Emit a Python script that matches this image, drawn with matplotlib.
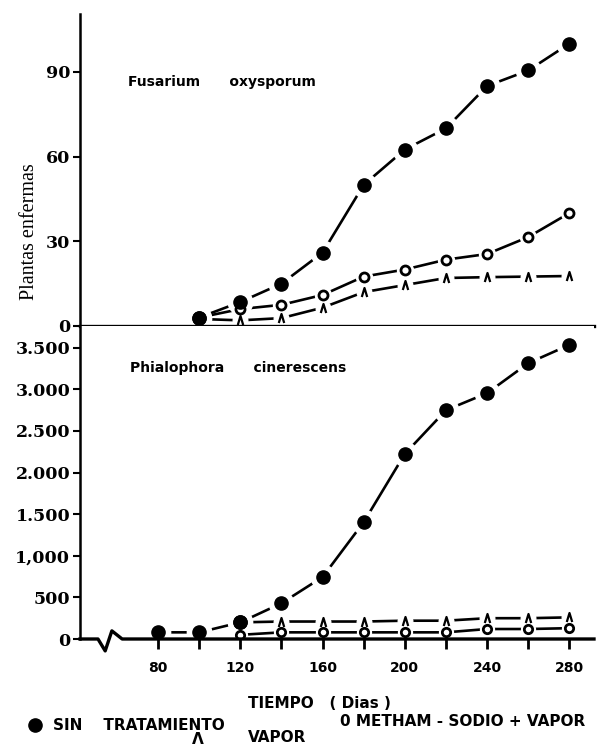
import numpy as np
import matplotlib
matplotlib.use("Agg")
import matplotlib.pyplot as plt
from matplotlib.path import Path
from matplotlib.lines import Line2D

# ---- data ----
days_fus = [100, 120, 140, 160, 180, 200, 220, 240, 260, 280]
fus_sin = [3, 8.5, 15, 26, 50, 62.5, 70, 85, 90.5, 100]
fus_metham = [3, 6, 7.5, 11, 17.5, 20, 23.5, 25.5, 31.5, 40]
fus_vapor = [2.5, 2, 2.8, 6.5, 12, 14.5, 17, 17.3, 17.5, 17.7]

days_phi = [80, 100, 120, 140, 160, 180, 200, 220, 240, 260, 280]
phi_sin = [80, 80, 200, 430, 745, 1405, 2225, 2750, 2955, 3315, 3535]
days_phi_trt = [120, 140, 160, 180, 200, 220, 240, 260, 280]
phi_metham = [50, 80, 80, 80, 80, 80, 120, 120, 130]
phi_vapor = [200, 210, 210, 210, 220, 220, 250, 250, 260]

top_yticks = [0, 30, 60, 90]
top_ylabels = ["0", "30", "60", "90"]
bot_yticks = [0, 500, 1000, 1500, 2000, 2500, 3000, 3500]
bot_ylabels = ["0", "500", "1,000", "1.500", "2.000", "2.500", "3.000", "3.500"]
xticks_major = [80, 120, 160, 200, 240, 280]
xticks_minor = [100, 140, 180, 220, 260]

# Lambda-like marker (open caret)
lam = Path([(-0.6, -1), (0, 1), (0.6, -1)], [Path.MOVETO, Path.LINETO, Path.LINETO])

W, H = 597, 749
fig = plt.figure(figsize=(W / 100, H / 100), dpi=100)
ax1 = fig.add_axes([80 / W, 1 - 326 / H, 514 / W, 312 / H])
ax2 = fig.add_axes([80 / W, 1 - 639 / H, 514 / W, 313 / H])


def series(ax, x, y, marker, ms, filled, mew=2.0, halo=7):
    ax.plot(x, y, color="black", lw=1.9, zorder=2, solid_capstyle="butt")
    # white halo so the segments stop short of the markers
    ax.plot(x, y, ls="none", marker="o", ms=ms + halo, mfc="white", mec="white", zorder=2.2)
    if filled:
        ax.plot(x, y, ls="none", marker=marker, ms=ms, mfc="black", mec="black", zorder=3)
    else:
        ax.plot(x, y, ls="none", marker=marker, ms=ms, mfc="none", mec="black", mew=mew, zorder=3)


series(ax1, days_fus, fus_sin, "o", 9.5, True, halo=8)
series(ax1, days_fus, fus_vapor, lam, 6.5, False, mew=1.6, halo=4)
series(ax1, days_fus, fus_metham, "o", 6.5, False, halo=5)
# keep the first (shared) point solid
ax1.plot(days_fus[:1], fus_sin[:1], ls="none", marker="o", ms=9.5, color="black", zorder=3.5)

series(ax2, days_phi, phi_sin, "o", 9.5, True, halo=8)
series(ax2, days_phi_trt, phi_vapor, lam, 6.5, False, mew=1.6, halo=4)
series(ax2, days_phi_trt, phi_metham, "o", 6, False, halo=4)
ax2.plot(days_phi[2:3], phi_sin[2:3], ls="none", marker="o", ms=9.5, color="black", zorder=2.9)

ylab_font = dict(family="DejaVu Serif", weight="bold", size=12.5)
for ax in (ax1, ax2):
    ax.set_xlim(42, 292)
    ax.spines["top"].set_visible(False)
    ax.spines["right"].set_visible(False)
    ax.spines["left"].set_linewidth(1.8)
    ax.tick_params(axis="y", direction="out", length=5, width=1.5, pad=2)

ax1.set_ylim(0, 110.5)
ax1.spines["bottom"].set_linewidth(2.4)
ax1.spines["bottom"].set_zorder(2.6)
ax1.tick_params(axis="x", bottom=False, labelbottom=False)
ax1.set_yticks(top_yticks)
ax1.set_yticklabels(top_ylabels, fontdict=ylab_font)

ax2.set_ylim(0, 3762)
ax2.spines["bottom"].set_visible(False)
ax2.set_yticks(bot_yticks)
ax2.set_yticklabels(bot_ylabels, fontdict=ylab_font)
ax2.set_xticks(xticks_major)
ax2.set_xticks(xticks_minor, minor=True)
ax2.set_xticklabels([str(d) for d in xticks_major],
                    fontdict=dict(family="DejaVu Sans", weight="bold", size=10))
ax2.tick_params(axis="x", which="both", direction="out", length=7, width=2, pad=9)

# baseline with axis break
bx = [0, 0.035, 0.049, 0.062, 0.082, 1.0]
by = [0, 0, -0.038, 0.026, 0, 0]
ax2.plot(bx, by, color="black", lw=2.4, transform=ax2.transAxes, clip_on=False, zorder=2.6)

title_font = dict(family="DejaVu Sans", weight="bold", size=10)
fig.text(128 / W, 1 - 82 / H, "Fusarium      oxysporum", va="center", ha="left", **title_font)
fig.text(130 / W, 1 - 368 / H, "Phialophora      cinerescens", va="center", ha="left", **title_font)

fig.text(29 / W, 1 - 232 / H, "Plantas enfermas", rotation=90, ha="center", va="center",
         family="Liberation Serif", size=14.5)

leg_font = dict(family="DejaVu Sans", weight="bold", size=11)
fig.text(319 / W, 1 - 703 / H, "TIEMPO   ( Dias )", ha="center", va="center", **leg_font)
fig.add_artist(Line2D([35 / W], [1 - 725 / H], marker="o", ms=9.5, color="black",
                      transform=fig.transFigure))
fig.text(53 / W, 1 - 725 / H, "SIN    TRATAMIENTO", ha="left", va="center", **leg_font)
fig.text(340 / W, 1 - 722 / H, "0 METHAM - SODIO + VAPOR", ha="left", va="center", **leg_font)
fig.text(198 / W, 1 - 739 / H, "Λ", ha="center", va="center", **leg_font)
fig.text(248 / W, 1 - 738 / H, "VAPOR", ha="left", va="center", **leg_font)

fig.savefig("out.png", dpi=100, facecolor="white")
